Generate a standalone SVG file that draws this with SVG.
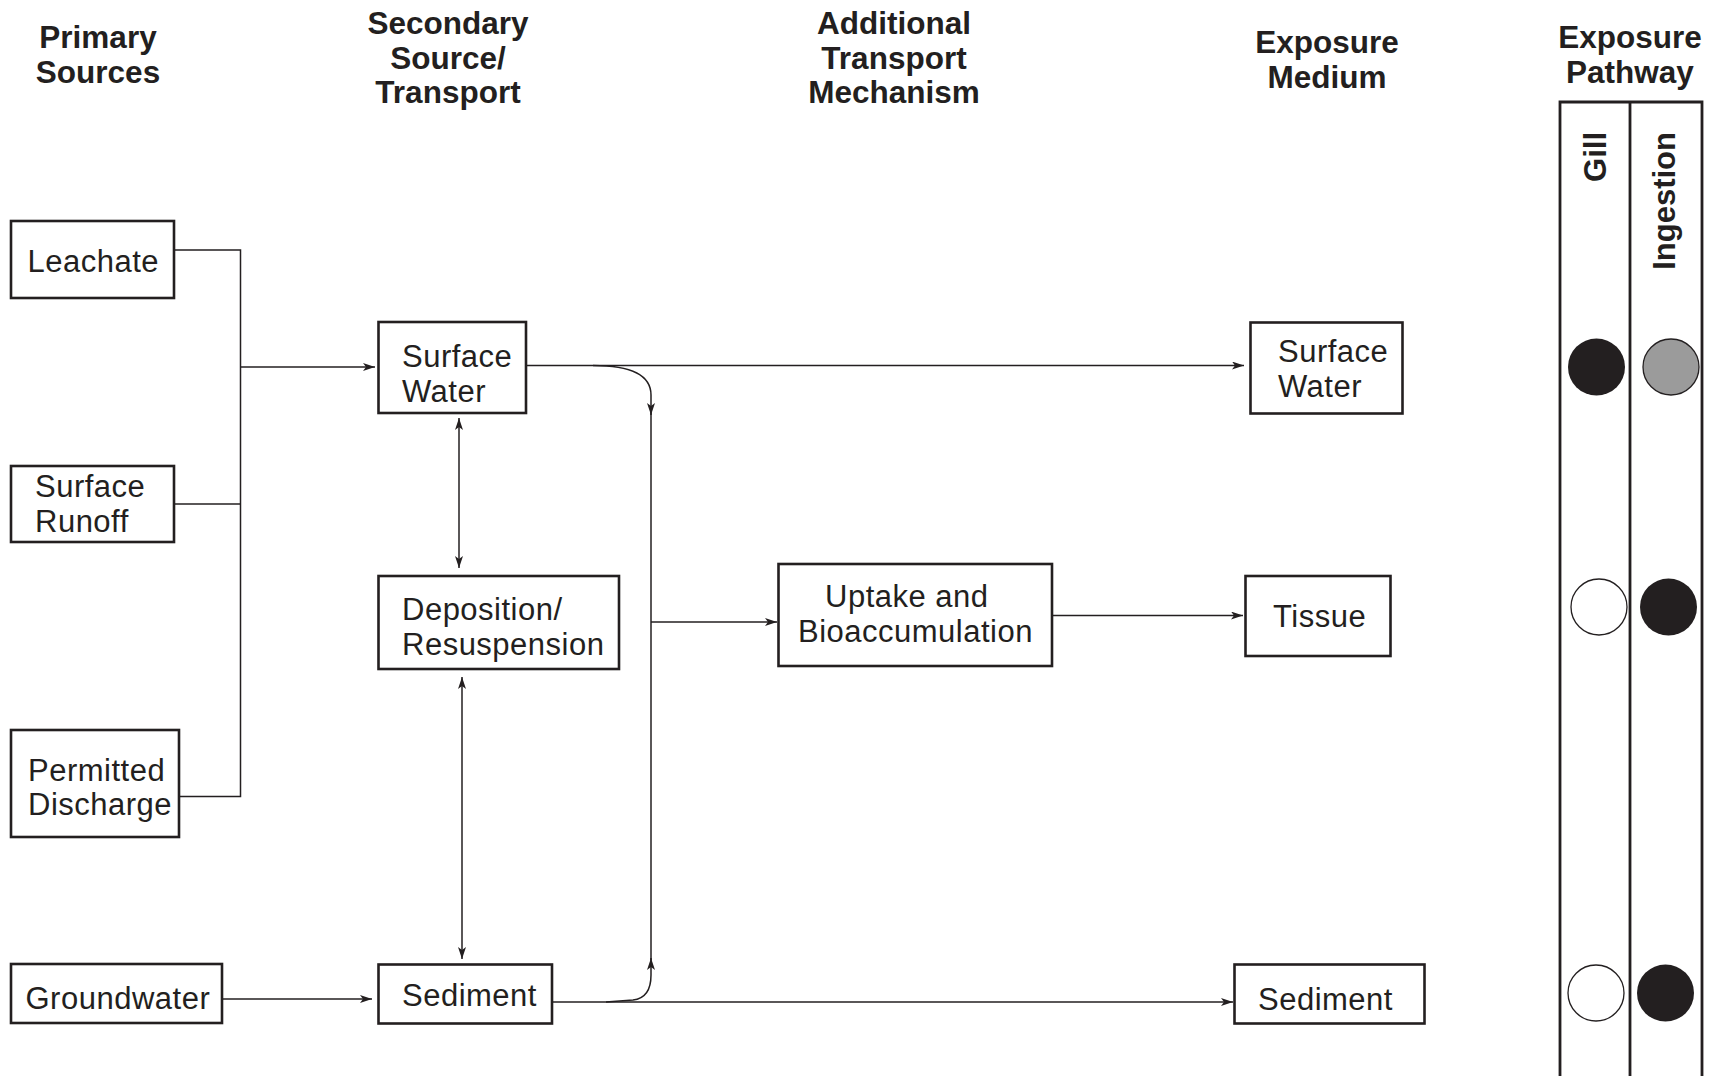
<svg xmlns="http://www.w3.org/2000/svg" width="1714" height="1076" viewBox="0 0 1714 1076">
<style>
  .hdr { font-family: "Liberation Sans", Arial, sans-serif; font-weight: bold; font-size: 31.5px; fill: #231f20; text-anchor: middle; }
  .lbl { font-family: "Liberation Sans", Arial, sans-serif; font-size: 31px; letter-spacing: 0.5px; fill: #231f20; }
  .box { fill: #ffffff; stroke: #231f20; stroke-width: 2.6; }
  .con { fill: none; stroke: #231f20; stroke-width: 1.5; }
  .arr { marker-end: url(#ah); }
  .dbl { marker-start: url(#ah); marker-end: url(#ah); }
  .tbl { fill: none; stroke: #231f20; stroke-width: 2.8; }
  .dotB { fill: #231f20; }
  .dotW { fill: #ffffff; stroke: #231f20; stroke-width: 1.3; }
  .dotG { fill: #9b9b9b; stroke: #231f20; stroke-width: 1.3; }
  .vert { font-family: "Liberation Sans", Arial, sans-serif; font-weight: bold; font-size: 31px; fill: #231f20; text-anchor: end; }
</style>
<defs>
  <marker id="ah" markerUnits="userSpaceOnUse" viewBox="0 0 12 8" refX="12" refY="4" markerWidth="12" markerHeight="8" orient="auto-start-reverse">
    <path d="M0,0 L12,4 L0,8 L3,4 z" fill="#231f20"/>
  </marker>
</defs>
<rect width="1714" height="1076" fill="#ffffff"/>

<g id="headers">
  <text class="hdr" x="98" y="48">Primary</text>
  <text class="hdr" x="98" y="83">Sources</text>
  <text class="hdr" x="448" y="34">Secondary</text>
  <text class="hdr" x="448" y="68.5">Source/</text>
  <text class="hdr" x="448" y="103">Transport</text>
  <text class="hdr" x="894" y="34">Additional</text>
  <text class="hdr" x="894" y="68.5">Transport</text>
  <text class="hdr" x="894" y="103">Mechanism</text>
  <text class="hdr" x="1327" y="53">Exposure</text>
  <text class="hdr" x="1327" y="87.5">Medium</text>
  <text class="hdr" x="1630" y="47.5">Exposure</text>
  <text class="hdr" x="1630" y="82.5">Pathway</text>
</g>

<g id="connectors">
  <path class="con" d="M171,250 H240.5 V796.5 H179"/>
  <path class="con" d="M174,504 H240.5"/>
  <path class="con arr" d="M240.5,367 H375"/>
  <path class="con arr" d="M526,365.5 H1244"/>
  <path class="con arr" d="M593,365.5 Q651,365.5 651,395 L651,415"/>
  <path class="con" d="M651,412 V960"/>
  <path class="con arr" d="M606,1002 L633,1000 Q651,998 651,975 L651,958"/>
  <path class="con arr" d="M651,622 H777"/>
  <path class="con arr" d="M1052,615.5 H1243"/>
  <path class="con arr" d="M222,999 H372"/>
  <path class="con arr" d="M552,1002 H1233"/>
  <path class="con dbl" d="M459,418 V568"/>
  <path class="con dbl" d="M462,677 V959"/>
</g>

<g id="leachate">
  <rect class="box" x="11" y="221" width="163" height="77"/>
  <text class="lbl" x="27.5" y="272">Leachate</text>
</g>
<g id="surface-runoff">
  <rect class="box" x="11" y="466" width="163" height="76"/>
  <text class="lbl" x="35" y="496.5">Surface</text>
  <text class="lbl" x="35" y="531.5">Runoff</text>
</g>
<g id="permitted-discharge">
  <rect class="box" x="11" y="730" width="168" height="107"/>
  <text class="lbl" x="28" y="780.5">Permitted</text>
  <text class="lbl" x="28" y="815">Discharge</text>
</g>
<g id="groundwater">
  <rect class="box" x="11" y="964" width="211" height="59"/>
  <text class="lbl" x="25.5" y="1008.5">Groundwater</text>
</g>
<g id="surface-water-secondary">
  <rect class="box" x="378.5" y="322" width="147.5" height="91"/>
  <text class="lbl" x="402" y="367">Surface</text>
  <text class="lbl" x="402" y="402">Water</text>
</g>
<g id="deposition-resuspension">
  <rect class="box" x="378.5" y="576" width="240.5" height="93"/>
  <text class="lbl" x="402" y="620">Deposition/</text>
  <text class="lbl" x="402" y="655">Resuspension</text>
</g>
<g id="sediment-secondary">
  <rect class="box" x="378.5" y="964.5" width="173.5" height="59"/>
  <text class="lbl" x="402" y="1006">Sediment</text>
</g>
<g id="uptake-bioaccumulation">
  <rect class="box" x="778.5" y="564" width="273.5" height="102"/>
  <text class="lbl" x="825" y="607">Uptake and</text>
  <text class="lbl" x="798" y="642">Bioaccumulation</text>
</g>
<g id="surface-water-exposure">
  <rect class="box" x="1250.5" y="322.5" width="152" height="91"/>
  <text class="lbl" x="1278" y="362">Surface</text>
  <text class="lbl" x="1278" y="396.5">Water</text>
</g>
<g id="tissue">
  <rect class="box" x="1245.5" y="576" width="145" height="80"/>
  <text class="lbl" x="1273" y="627">Tissue</text>
</g>
<g id="sediment-exposure">
  <rect class="box" x="1234.5" y="964.5" width="190" height="59"/>
  <text class="lbl" x="1258" y="1010">Sediment</text>
</g>

<g id="exposure-pathway-table">
  <path class="tbl" d="M1560,1076 V102 H1702 V1076"/>
  <path class="tbl" d="M1630,102 V1076"/>
  <text class="vert" transform="translate(1606,132) rotate(-90)">Gill</text>
  <text class="vert" transform="translate(1675,132) rotate(-90)">Ingestion</text>
  <circle class="dotB" cx="1596.5" cy="367" r="28.5"/>
  <circle class="dotG" cx="1671" cy="367" r="28"/>
  <circle class="dotW" cx="1599" cy="607" r="28"/>
  <circle class="dotB" cx="1668.5" cy="607" r="28.5"/>
  <circle class="dotW" cx="1596" cy="993" r="28"/>
  <circle class="dotB" cx="1665.5" cy="993" r="28.5"/>
</g>
</svg>
